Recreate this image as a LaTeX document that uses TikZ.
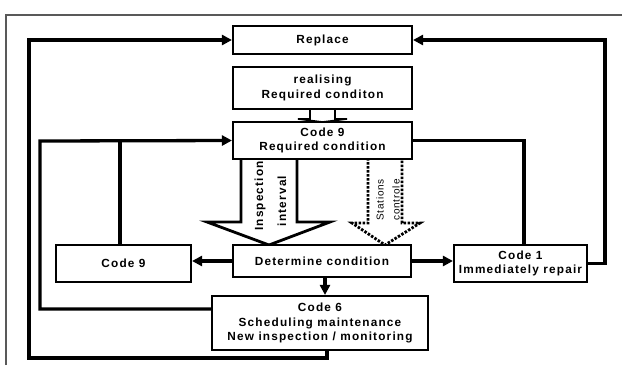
\documentclass[tikz,border=0pt]{standalone}
\usepackage{fontspec}
\setmainfont{Liberation Sans}
\newfontfamily\lblfont{Liberation Sans}[LetterSpace=10]
\newfontfamily\lblthin{Liberation Sans}[LetterSpace=8]
\usetikzlibrary{arrows.meta}
\begin{document}
\begin{tikzpicture}[x=1pt,y=-1pt,
  box/.style={draw, line width=2.1pt, fill=white, inner sep=0pt, align=center,
    font=\lblfont\bfseries\fontsize{11.8}{14.5}\selectfont},
  conn/.style={line width=3.3pt},
  arr/.style={conn, -{Triangle[length=10pt,width=10pt]}},
  vtext/.style={rotate=90, inner sep=0pt, font=\lblfont\bfseries\fontsize{11.8}{14}\selectfont},
  vthin/.style={rotate=90, inner sep=0pt, font=\lblthin\fontsize{10}{12}\selectfont},
  blockarrow/.style={line width=2.8pt, fill=white, line join=miter},
  frame/.style={draw=black!65, line width=1.4pt}]
\useasboundingbox (0,0) rectangle (622,365);

% outer frame
\draw[frame] (6,365) -- (6,15) -- (622,15);

% block arrows
\draw[blockarrow] (241,158) -- (241,222) -- (207,222) -- (269,245) -- (330,222) -- (297,222) -- (297,158);
\draw[blockarrow, dash pattern=on 2.5pt off 1.5pt] (368,158) -- (368,223) -- (352,223) -- (385,245) -- (420,223) -- (402,223) -- (402,158);
\draw[line width=1.6pt, fill=white] (310,109) -- (310,119) -- (298,119) -- (322.5,122) -- (347,119) -- (335,119) -- (335,109);

% nodes
\node[box, minimum width=179pt, minimum height=28pt] (replace) at (322.5,40) {Replace};
\node[box, minimum width=179pt, minimum height=42pt] (realising) at (322.5,88) {realising\hspace{20pt}\\Required conditon};
\node[box, minimum width=179pt, minimum height=37pt] (code9m) at (322.5,140.5) {Code 9\\Required condition};
\node[box, minimum width=178pt, minimum height=32pt] (determine) at (322,261) {Determine condition};
\node[box, minimum width=135pt, minimum height=37pt] (code9s) at (123.5,263.5) {Code 9};
\node[box, minimum width=133pt, minimum height=37pt] (code1) at (520.5,263.5) {Code 1\\Immediately repair};
\node[box, minimum width=216pt, minimum height=54pt] (code6) at (320,323) {Code 6\\Scheduling maintenance\\New inspection / monitoring};

% texts in block arrows
\node[vtext] (insp) at (260,196) {Inspection};
\node[vtext] (intv) at (282,201) {interval};
\node[vthin] (stat) at (380,200) {Stations};
\node[vthin] (ctrl) at (396,200) {controle};

% connector corner points
\coordinate (bl) at (29,358);
\coordinate (tl) at (29,40);
\coordinate (tr) at (605,40);
\coordinate (ml) at (40,141);
\coordinate (m9) at (120,141);

% connectors
\draw[arr] ([xshift=7pt]code6.south) |- (bl) -- (tl) -- (replace.west);
\draw[arr] (code1.east) -| (tr) -- (replace.east);
\draw[arr] ([yshift=14pt]code6.west) -| (ml) -- (code9m.west);
\draw[conn] ([xshift=-3.5pt]code9s.north) -- (m9);
\draw[conn] (code9m.east) -| ([xshift=3.5pt]code1.north);
\draw[arr] (determine.west) -- (determine.west -| code9s.east);
\draw[arr] (determine.east) -- (determine.east -| code1.west);
\draw[arr] ([xshift=3pt]determine.south) -- ([xshift=3pt]determine.south |- code6.north);
\end{tikzpicture}
\end{document}
